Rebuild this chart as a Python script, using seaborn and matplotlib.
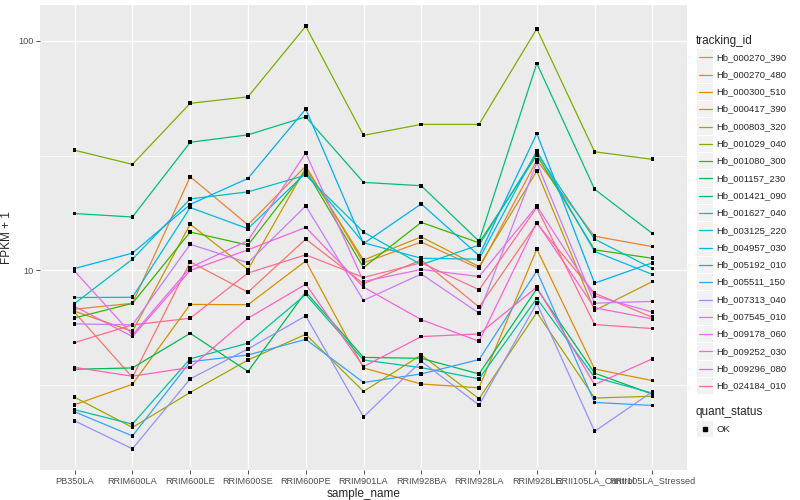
import matplotlib
matplotlib.use("Agg")
import matplotlib.pyplot as plt
from matplotlib.lines import Line2D
from matplotlib.patches import Rectangle
import pandas as pd
import seaborn as sns

sample_names = ["PB350LA", "RRIM600LA", "RRIM600LE", "RRIM600SE", "RRIM600PE",
                "RRIM901LA", "RRIM928BA", "RRIM928LA", "RRIM928LE",
                "RRII105LA_Control", "RRII105LA_Stressed"]

tracking_ids = ["Hb_000270_390", "Hb_000270_480", "Hb_000300_510", "Hb_000417_390",
                "Hb_000803_320", "Hb_001029_040", "Hb_001080_300", "Hb_001157_230",
                "Hb_001421_090", "Hb_001627_040", "Hb_003125_220", "Hb_004957_030",
                "Hb_005192_010", "Hb_005511_150", "Hb_007313_040", "Hb_007545_010",
                "Hb_009178_060", "Hb_009252_030", "Hb_009296_080", "Hb_024184_010"]

# FPKM + 1, one value per sample_name
hb_000270_390 = [6.56, 3.42, 10.9, 8.04, 13.7, 8.75, 11.1, 6.93, 16.0, 7.96, 6.25]
hb_000270_480 = [6.78, 7.19, 25.6, 15.8, 28.5, 10.8, 13.3, 10.2, 30.2, 14.1, 12.7]
hb_000300_510 = [2.60, 3.19, 7.11, 7.09, 11.0, 3.76, 3.20, 3.08, 12.4, 3.72, 3.31]
hb_000417_390 = [6.64, 5.43, 15.9, 10.1, 28.0, 11.1, 14.0, 10.4, 27.1, 6.69, 8.94]
hb_000803_320 = [2.80, 2.07, 2.94, 4.07, 5.27, 2.97, 4.28, 2.76, 6.56, 2.78, 2.83]
hb_001029_040 = [33.4, 29.0, 53.5, 57.1, 116.0, 38.8, 43.3, 43.3, 113.0, 32.9, 30.5]
hb_001080_300 = [6.21, 7.19, 14.7, 12.9, 27.3, 10.3, 16.2, 13.2, 31.8, 12.3, 11.3]
hb_001157_230 = [3.71, 3.76, 5.32, 3.63, 8.06, 4.18, 4.14, 3.54, 8.32, 3.57, 2.89]
hb_001421_090 = [17.7, 17.1, 36.2, 39.0, 46.7, 24.2, 23.4, 13.4, 79.9, 22.6, 14.5]
hb_001627_040 = [2.47, 2.14, 4.12, 4.82, 7.86, 4.07, 3.77, 3.37, 7.55, 3.42, 2.92]
hb_003125_220 = [7.18, 11.2, 20.5, 22.0, 26.0, 14.7, 10.6, 12.9, 32.5, 13.7, 10.2]
hb_004957_030 = [7.62, 7.64, 18.8, 15.2, 26.6, 13.2, 11.3, 11.2, 33.2, 12.1, 9.61]
hb_005192_010 = [10.2, 11.9, 19.4, 25.2, 50.5, 13.1, 19.5, 11.6, 39.5, 8.80, 10.8]
hb_005511_150 = [2.42, 1.90, 4.00, 4.28, 5.01, 3.25, 3.54, 4.09, 9.95, 2.66, 2.58]
hb_007313_040 = [2.21, 1.67, 3.37, 4.55, 6.34, 2.30, 4.02, 2.59, 7.20, 1.99, 2.96]
hb_007545_010 = [5.85, 5.79, 13.0, 10.8, 19.1, 7.40, 9.65, 6.51, 29.5, 7.20, 7.33]
hb_009178_060 = [9.93, 5.24, 10.3, 13.5, 32.5, 8.95, 10.1, 9.41, 19.1, 7.75, 6.58]
hb_009252_030 = [6.97, 5.15, 10.0, 12.3, 15.4, 8.46, 6.10, 4.91, 16.2, 6.88, 6.15]
hb_009296_080 = [3.78, 3.46, 3.78, 6.19, 8.71, 3.81, 5.15, 5.29, 8.46, 3.18, 4.12]
hb_024184_010 = [4.85, 5.79, 6.19, 9.75, 11.7, 9.32, 10.8, 8.24, 18.8, 5.81, 5.58]

series = [hb_000270_390, hb_000270_480, hb_000300_510, hb_000417_390, hb_000803_320,
          hb_001029_040, hb_001080_300, hb_001157_230, hb_001421_090, hb_001627_040,
          hb_003125_220, hb_004957_030, hb_005192_010, hb_005511_150, hb_007313_040,
          hb_007545_010, hb_009178_060, hb_009252_030, hb_009296_080, hb_024184_010]

# ggplot2 default hue palette for 20 levels
hue_colors = ["#F8766D", "#EA8331", "#D89000", "#C09B00", "#A3A500", "#7CAE00",
              "#39B600", "#00BB4E", "#00BF7D", "#00C1A3", "#00BFC4", "#00BAE0",
              "#00B0F6", "#35A2FF", "#9590FF", "#C77CFF", "#E76BF3", "#FA62DB",
              "#FF62BC", "#FF6C91"]

rows = []
for tid, vals in zip(tracking_ids, series):
    for i, v in enumerate(vals):
        rows.append({"tracking_id": tid, "pos": i, "sample_name": sample_names[i],
                     "fpkm": v, "quant_status": "OK"})
df = pd.DataFrame(rows)

sns.set_style("darkgrid", {"axes.facecolor": "#EBEBEB", "grid.color": "white"})
plt.rcParams["font.family"] = ["Liberation Sans", "DejaVu Sans"]

W, H = 800, 500
fig = plt.figure(figsize=(8, 5), dpi=100)
ax = fig.add_axes([40 / W, 30 / H, 647 / W, 465 / H])

sns.lineplot(data=df, x="pos", y="fpkm", hue="tracking_id", hue_order=tracking_ids,
             palette=hue_colors, estimator=None, lw=0.9, legend=False, ax=ax)
sns.scatterplot(data=df, x="pos", y="fpkm", color="black", marker="s", s=7,
                edgecolor="none", legend=False, ax=ax, zorder=5)

ax.set_yscale("log")
ax.set_ylim(1.35, 143.5)
ax.set_xlim(-0.6, 10.6)
ax.set_yticks([10, 100])
ax.set_yticklabels(["10", "100"])
ax.set_yticks([10 ** 0.5, 10 ** 1.5], minor=True)
ax.set_xticks(range(len(sample_names)))
ax.set_xticklabels(sample_names)
ax.grid(which="major", color="white", lw=1.0)
ax.grid(which="minor", axis="y", color="white", lw=0.5)
ax.tick_params(axis="both", which="major", labelsize=6.6, labelcolor="#4D4D4D",
               length=2.7, width=0.6, color="#333333", pad=2, left=True, bottom=True)
ax.tick_params(axis="y", which="minor", length=0)
for sp in ax.spines.values():
    sp.set_visible(False)
ax.set_xlabel("sample_name", fontsize=8.5, labelpad=2)
ax.set_ylabel("FPKM + 1", fontsize=8.5)
ax.yaxis.set_label_coords(-27 / 647, 0.5)

# legend drawn like ggplot's guide boxes
def fy(y):
    return 1 - y / H

fig.text(696 / W, fy(41), "tracking_id", fontsize=8.5, va="center", ha="left")
for i, (tid, col) in enumerate(zip(tracking_ids, hue_colors)):
    yc = 57.3 + i * 17.3
    fig.add_artist(Rectangle((697 / W, fy(yc + 8.2)), 16 / W, 16.4 / H,
                             transform=fig.transFigure, facecolor="#F2F2F2",
                             edgecolor="none"))
    fig.add_artist(Line2D([698.5 / W, 711.5 / W], [fy(yc), fy(yc)],
                          transform=fig.transFigure, color=col, lw=0.9))
    fig.text(716.5 / W, fy(yc), tid, fontsize=6.8, va="center", ha="left")

fig.text(696 / W, fy(412), "quant_status", fontsize=8.5, va="center", ha="left")
fig.add_artist(Rectangle((697 / W, fy(429 + 8.2)), 16 / W, 16.4 / H,
                         transform=fig.transFigure, facecolor="#F2F2F2",
                         edgecolor="none"))
fig.add_artist(Line2D([705 / W], [fy(429)], transform=fig.transFigure,
                      marker="s", ms=2.6, color="black", lw=0))
fig.text(716.5 / W, fy(429), "OK", fontsize=6.8, va="center", ha="left")

fig.savefig("out.png", dpi=100)
